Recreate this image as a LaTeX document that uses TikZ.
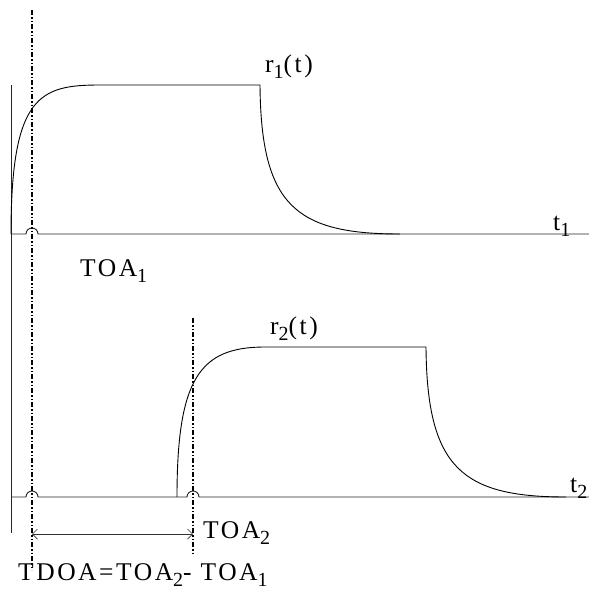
\documentclass[tikz,border=0pt]{standalone}
\usepackage{fontspec}
\setmainfont{Liberation Serif}[LetterSpace=10]
\usetikzlibrary{arrows.meta}

% subscript index, set large and dropped as in the drawing
\newcommand{\lowidx}[1]{\raisebox{-0.25em}{\fontsize{20pt}{20pt}\selectfont #1}}

\begin{document}
\begin{tikzpicture}[x=1pt,y=-1pt,font=\fontsize{25.5pt}{28pt}\selectfont]

\tikzset{
  axisline/.style={draw=black!85, line width=0.9pt},
  signal/.style={draw=black, line width=0.9pt},
  marker/.style={draw=black, line width=1.1pt,
    dash pattern=on 5pt off 2pt on 1.5pt off 2pt on 1.5pt off 2pt},
  span/.style={draw=black!80, line width=0.7pt,
    {Straight Barb[length=5pt,width=10pt]}-{Straight Barb[length=5pt,width=10pt]}},
  label/.style={anchor=base west, inner sep=0pt}
}

\useasboundingbox (0,0) rectangle (589,592);

% Key points (pixel grid, y downwards).
\coordinate (vtop)  at (11,85);
\coordinate (vbot)  at (11,533);
\coordinate (mAtop) at (32,10);
\coordinate (mAbot) at (32,570);
\coordinate (mBtop) at (193,318);
\coordinate (mBbot) at (193,555);
\coordinate (axAl)  at (11,234);
\coordinate (axAr)  at (589,234);
\coordinate (axBl)  at (11,497);
\coordinate (axBr)  at (589,497);
\coordinate (spanl) at (32,534);
\coordinate (spanr) at (193,534);

% Common time axis.
\draw[axisline] (vtop) -- (vbot);

% Receiver 1 axis with hop over the marker.
\draw[axisline] (axAl) -- ([xshift=-6pt]mAtop |- axAl)
  arc[start angle=180, end angle=0, radius=6pt] -- (axAr);

% Receiver 2 axis with two hops.
\draw[axisline] (axBl) -- ([xshift=-6pt]mAtop |- axBl)
  arc[start angle=180, end angle=0, radius=6pt]
  -- ([xshift=-6pt]mBtop |- axBl)
  arc[start angle=180, end angle=0, radius=6pt] -- (axBr);

% r1(t): rise, hold, decay.
\draw[signal] (11,234) .. controls (11,95) and (40,85) .. (100,85)
  -- (260,85) .. controls (261,205) and (295,234) .. (400,234);

% r2(t): rise, hold, decay.
\draw[signal] (177,497) .. controls (177,378) and (200,347) .. (265,347)
  -- (426,347) .. controls (427,467) and (461,497) .. (566,497);

% Arrival markers.
\draw[marker] (mAtop) -- (mAbot);
\draw[marker] (mBtop) -- (mBbot);

% Time difference.
\draw[span] (spanl) -- (spanr);

% Labels.
\node[label] (lr1)   at (265,72)  {r\lowidx{1}(t)};
\node[label] (lt1)   at (553,230) {t\lowidx{1}};
\node[label] (ltoa1) at (80,276)  {TOA\lowidx{1}};
\node[label] (lr2)   at (270,334) {r\lowidx{2}(t)};
\node[label] (lt2)   at (570,492) {t\lowidx{2}};
\node[label] (ltoa2) at (203,538) {TOA\lowidx{2}};
\node[label] (ltdoa) at (18,580)  {TDOA=TOA\lowidx{2}- TOA\lowidx{1}};

\end{tikzpicture}
\end{document}
